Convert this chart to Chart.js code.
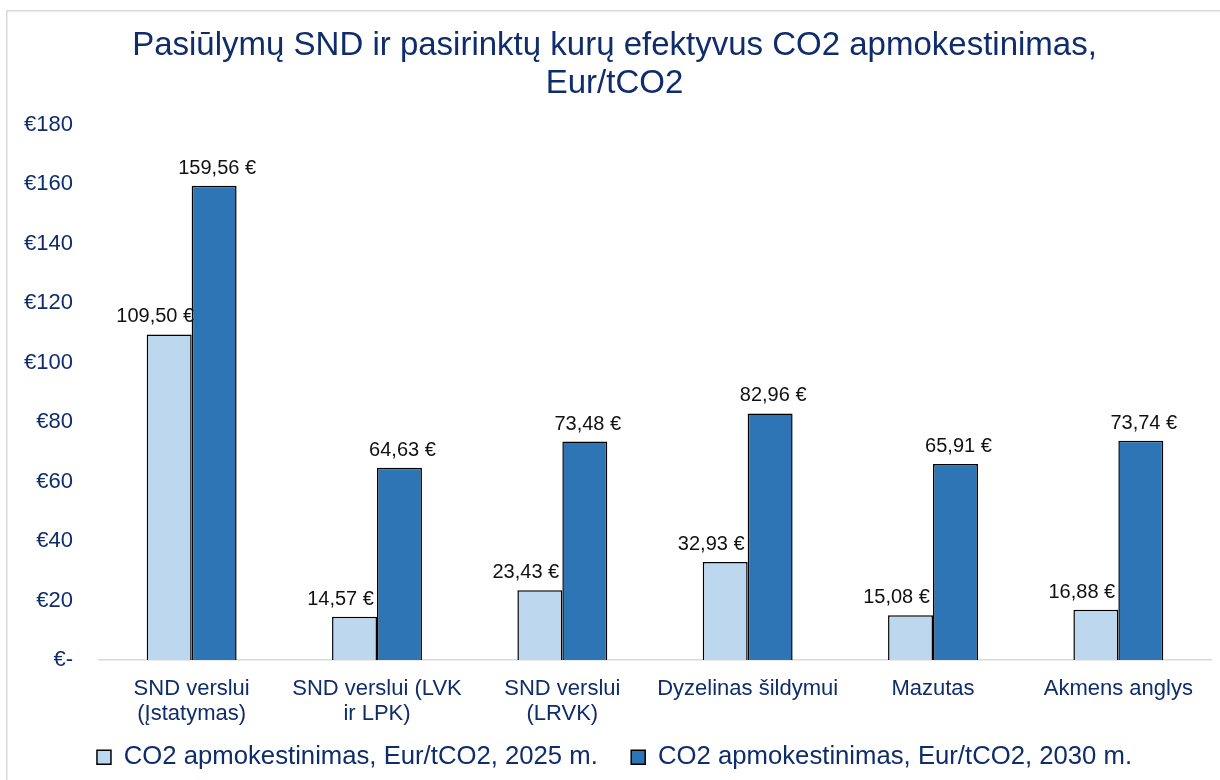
<!DOCTYPE html>
<html lang="lt">
<head>
    <meta charset="UTF-8">
    <title>CO2 apmokestinimas</title>
    <script src="https://cdn.jsdelivr.net/npm/chart.js"></script>
    <style>
        body {
            margin: 0;
            padding: 0;
            background: #ffffff;
        }
        canvas {
            display: block;
        }
    </style>
</head>
<body>
    <canvas id="co2Chart" width="1220" height="780"></canvas>
    <script>
        const categories = [
            ['SND verslui', '(Įstatymas)'],
            ['SND verslui (LVK', 'ir LPK)'],
            ['SND verslui', '(LRVK)'],
            'Dyzelinas šildymui',
            'Mazutas',
            'Akmens anglys'
        ];
        const seriesNames = [
            'CO2 apmokestinimas, Eur/tCO2, 2025 m.',
            'CO2 apmokestinimas, Eur/tCO2, 2030 m.'
        ];
        const values2025 = [109.50, 14.57, 23.43, 32.93, 15.08, 16.88];
        const values2030 = [159.56, 64.63, 73.48, 82.96, 65.91, 73.74];
        const yTicks = [0, 20, 40, 60, 80, 100, 120, 140, 160, 180];

        const navy = '#0F2C6B';
        const fontFamily = "'Liberation Sans', Arial, sans-serif";

        // white background and the light grey chart frame
        const framePlugin = {
            id: 'frame',
            beforeDraw(chart) {
                const ctx = chart.ctx;
                ctx.save();
                ctx.fillStyle = '#ffffff';
                ctx.fillRect(0, 0, chart.width, chart.height);
                ctx.strokeStyle = '#D9D9D9';
                ctx.lineWidth = 1.5;
                ctx.strokeRect(6.75, 10.75, chart.width + 20, chart.height + 20);
                ctx.restore();
            }
        };

        // value labels above the bars, e.g. "109,50 €"
        const valueLabels = {
            id: 'valueLabels',
            afterDatasetsDraw(chart) {
                const ctx = chart.ctx;
                ctx.save();
                ctx.font = '20px ' + fontFamily;
                ctx.fillStyle = '#111111';
                ctx.textAlign = 'center';
                ctx.textBaseline = 'alphabetic';
                chart.data.datasets.forEach((ds, i) => {
                    const meta = chart.getDatasetMeta(i);
                    meta.data.forEach((bar, j) => {
                        const txt = ds.data[j].toFixed(2).replace('.', ',') + ' €';
                        const dx = i === 0 ? -14 : 3;
                        ctx.fillText(txt, bar.x + dx, bar.y - 12);
                    });
                });
                ctx.restore();
            }
        };

        const ctx = document.getElementById('co2Chart').getContext('2d');
        const chart = new Chart(ctx, {
            type: 'bar',
            data: {
                labels: categories,
                datasets: [{
                    label: seriesNames[0],
                    data: values2025,
                    backgroundColor: '#BDD7EE',
                    borderColor: '#000000',
                    borderWidth: 1.5,
                    categoryPercentage: 0.485,
                    barPercentage: 1.0
                }, {
                    label: seriesNames[1],
                    data: values2030,
                    backgroundColor: '#2E75B6',
                    borderColor: '#000000',
                    borderWidth: 1.5,
                    categoryPercentage: 0.485,
                    barPercentage: 1.0
                }]
            },
            options: {
                responsive: false,
                animation: false,
                layout: {
                    padding: { top: 10, left: 18, right: 9, bottom: 0 }
                },
                plugins: {
                    tooltip: { enabled: false },
                    title: {
                        display: true,
                        text: ['Pasiūlymų SND ir pasirinktų kurų efektyvus CO2 apmokestinimas,', 'Eur/tCO2'],
                        color: navy,
                        font: { family: fontFamily, size: 33, weight: 'normal', lineHeight: 1.15 },
                        padding: { top: 17, bottom: 22 }
                    },
                    legend: {
                        position: 'bottom',
                        labels: {
                            color: navy,
                            font: { family: fontFamily, size: 25.7 },
                            boxWidth: 14,
                            boxHeight: 14,
                            padding: 12,
                            // wider gap after the first entry, as in the original
                            generateLabels(chart) {
                                const items = Chart.defaults.plugins.legend.labels.generateLabels(chart);
                                items[0].text += '   ';
                                return items;
                            }
                        }
                    }
                },
                scales: {
                    x: {
                        grid: { display: false, drawTicks: false },
                        border: { display: true, color: '#D9D9D9', width: 1.5 },
                        ticks: {
                            color: navy,
                            font: { family: fontFamily, size: 22, lineHeight: 1.15 },
                            padding: 16,
                            maxRotation: 0,
                            autoSkip: false
                        },
                        afterFit(scale) { scale.height = 72.3; }
                    },
                    y: {
                        min: 0,
                        max: yTicks[yTicks.length - 1],
                        afterBuildTicks(scale) {
                            scale.ticks = yTicks.map(v => ({ value: v }));
                        },
                        grid: { display: false, drawTicks: false },
                        border: { display: false },
                        ticks: {
                            color: navy,
                            font: { family: fontFamily, size: 22 },
                            padding: 26,
                            callback: v => v === 0 ? '€-' : '€' + v
                        },
                        afterFit(scale) { scale.width = 81; }
                    }
                }
            },
            plugins: [framePlugin, valueLabels]
        });
    </script>
</body>
</html>
